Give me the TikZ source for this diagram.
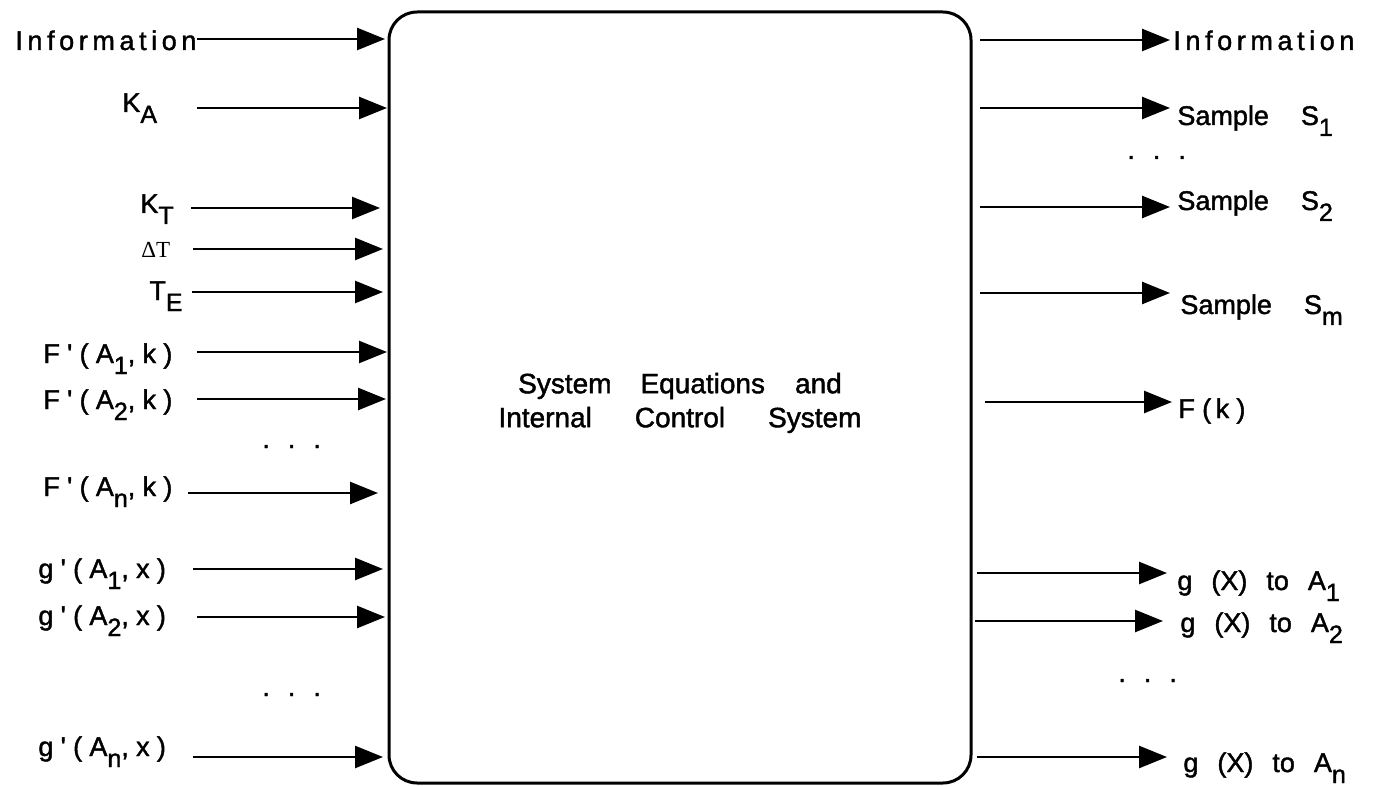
\documentclass[tikz,border=0pt,12pt]{standalone}
\usepackage{fontspec}
\setmainfont[FakeBold=1.5]{Liberation Sans}
\newfontfamily\track[LetterSpace=17,FakeBold=1.5]{Liberation Sans}
\newfontfamily\spaced[LetterSpace=27,FakeBold=1.5]{Liberation Sans}
\newfontfamily\serif{Liberation Serif}
\usetikzlibrary{arrows.meta}

% lowered index, nearly full size
\newcommand{\lo}[1]{\raisebox{-5.5pt}{\fontsize{12.5}{14}\selectfont #1}}
\newcommand{\ap}{\char"27}
\newcommand{\etc}{.\hspace{9pt}.\hspace{9pt}.}
\newcommand{\gap}{\hspace{9.5pt}}

\begin{document}
\fontsize{13.5}{16}\selectfont
\begin{tikzpicture}[x=0.5pt,y=-0.5pt,
  lbl/.style={anchor=base west,inner sep=0pt},
  arr/.style={line width=1.3pt,-{Triangle[length=14pt,width=11pt]}},
  sysbox/.style={draw,line width=1.5pt,rounded corners=14pt,outer sep=0pt,
    minimum width=291pt,minimum height=385.5pt}]
\useasboundingbox (0,0) rectangle (1375,786);

\node[sysbox] (box) at (680,397.5) {};
\node[align=center,font=\fontsize{14}{17}\selectfont] (eqs) at (680,403)
  {System\hspace{14.5pt}Equations\hspace{15pt}and\\
   Internal\hspace{21.5pt}Control\hspace{21.5pt}System};

% inputs
\node[lbl,font=\track] (lInfo) at (15,50) {Information};
\node[lbl,font=\track] (lKA) at (122,112) {K\lo{A}};
\node[lbl,font=\track] (lKT) at (140,213) {K\lo{T}};
\node[lbl,font=\serif\fontsize{11.5}{13}\selectfont] (lDT) at (141,257) {ΔT};
\node[lbl,font=\track] (lTE) at (149,300) {T\lo{E}};
\node[lbl,font=\spaced] (lF1) at (43,363) {F\ap(A\lo{1},k)};
\node[lbl,font=\spaced] (lF2) at (43,409) {F\ap(A\lo{2},k)};
\node[lbl] (dotsF) at (262,448) {\etc};
\node[lbl,font=\spaced] (lFn) at (43,496) {F\ap(A\lo{n},k)};
\node[lbl,font=\spaced] (lg1) at (38,578) {g\ap(A\lo{1},x)};
\node[lbl,font=\spaced] (lg2) at (38,625) {g\ap(A\lo{2},x)};
\node[lbl] (dotsG) at (262,696) {\etc};
\node[lbl,font=\spaced] (lgn) at (38,756) {g\ap(A\lo{n},x)};

\coordinate (inInfo) at (197,39);
\coordinate (inKA) at (197,108);
\coordinate (inKT) at (191,208);
\coordinate (inDT) at (193,249);
\coordinate (inTE) at (192,292);
\coordinate (inF1) at (197,352);
\coordinate (inF2) at (197,399);
\coordinate (inFn) at (188,493);
\coordinate (ing1) at (193,569);
\coordinate (ing2) at (197,617);
\coordinate (ingn) at (193,757);

% outputs
\node[lbl,font=\track] (rInfo) at (1173,50) {Information};
\node[lbl] (rS1) at (1177,125) {Sample\hspace{16pt}S\lo{1}};
\node[lbl] (dotsS) at (1127,159) {\etc};
\node[lbl] (rS2) at (1177,210) {Sample\hspace{16pt}S\lo{2}};
\node[lbl] (rSm) at (1180,314) {Sample\hspace{16pt}S\lo{m}};
\node[lbl,font=\spaced] (rFk) at (1178,418) {F(\,k)};
\node[lbl] (rg1) at (1177,590) {g\gap(X)\gap to\gap A\lo{1}};
\node[lbl] (rg2) at (1180,632) {g\gap(X)\gap to\gap A\lo{2}};
\node[lbl] (dotsR) at (1118,682) {\etc};
\node[lbl] (rgn) at (1183,772) {g\gap(X)\gap to\gap A\lo{n}};

\coordinate (outInfo) at (1170,40);
\coordinate (outS1) at (1170,108);
\coordinate (outS2) at (1170,207);
\coordinate (outSm) at (1170,293);
\coordinate (outFk) at (1172,402);
\coordinate (outg1) at (1167,573);
\coordinate (outg2) at (1163,621);
\coordinate (outgn) at (1167,757);

\path[arr]
  (inInfo) edge[shorten >=2pt] (inInfo -| box.west)
  (inKA) edge[shorten >=1pt] (inKA -| box.west)
  (inKT) edge[shorten >=4.5pt] (inKT -| box.west)
  (inDT) edge[shorten >=3pt] (inDT -| box.west)
  (inTE) edge[shorten >=3pt] (inTE -| box.west)
  (inF1) edge[shorten >=1pt] (inF1 -| box.west)
  (inF2) edge[shorten >=1.5pt] (inF2 -| box.west)
  (inFn) edge[shorten >=5.5pt] (inFn -| box.west)
  (ing1) edge[shorten >=3pt] (ing1 -| box.west)
  (ing2) edge[shorten >=2pt] (ing2 -| box.west)
  (ingn) edge[shorten >=3pt] (ingn -| box.west);

\path[arr]
  (outInfo -| box.east) edge[shorten <=4.5pt] (outInfo)
  (outS1 -| box.east) edge[shorten <=4.5pt] (outS1)
  (outS2 -| box.east) edge[shorten <=4.5pt] (outS2)
  (outSm -| box.east) edge[shorten <=4.5pt] (outSm)
  (outFk -| box.east) edge[shorten <=7pt] (outFk)
  (outg1 -| box.east) edge[shorten <=3pt] (outg1)
  (outg2 -| box.east) edge[shorten <=2pt] (outg2)
  (outgn -| box.east) edge[shorten <=3pt] (outgn);
\end{tikzpicture}
\end{document}
